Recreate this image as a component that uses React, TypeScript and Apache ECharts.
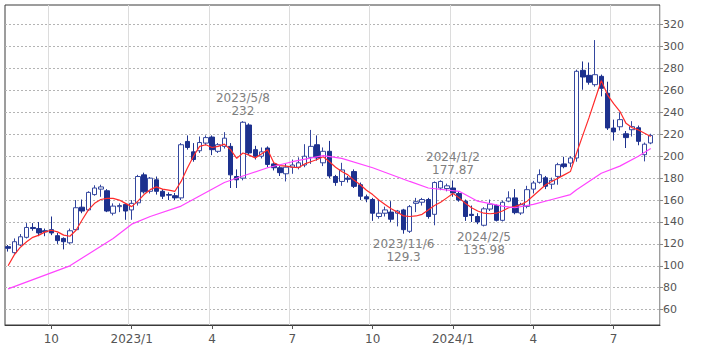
import React, { useEffect, useRef } from "react";
import * as echarts from "echarts";

// Weekly candles starting week of 2022/8/15; [open, close, low, high]
const firstWeek = [2022, 8, 15];
const weekCount = 106; // last slot is empty (current week)
const candles: number[][] = [
  [117.5, 116, 113, 119], [112, 122, 111, 125], [119, 126.5, 118, 129], [126, 135, 125, 139],
  [135, 134, 132, 139], [134, 130, 127, 140], [132, 131, 127, 134], [133, 130, 128, 145],
  [127.5, 123, 120, 130], [125, 122, 115, 126], [121, 132, 120, 134], [133, 153, 132, 160],
  [153.5, 150, 148, 160.5], [151, 167, 150, 168], [165, 171, 164, 173.5], [170, 172, 163, 174],
  [168.5, 150, 149, 170], [148, 154.5, 146, 157], [154, 155, 149, 157], [156, 150, 142, 157],
  [151, 157, 142, 160], [157.5, 181.5, 155, 183], [183, 167.5, 166, 185], [168, 180, 166, 181],
  [178.5, 168, 165, 181.5], [168, 163.5, 161, 170], [165, 164.5, 160, 167], [164, 162, 160, 166.5],
  [162, 210.5, 160, 212], [213.5, 208, 206, 219], [204, 197, 195, 212], [205, 212.5, 203, 218],
  [212, 217, 210, 219], [217.5, 206, 201, 219], [204.5, 210.5, 203, 212], [209, 216.5, 207, 222],
  [209, 183, 171, 212], [181.5, 178.5, 171, 188], [180, 231, 178, 232], [228.5, 203, 201, 230],
  [206, 200, 197, 209.5], [200, 204, 198, 208], [207.5, 192.5, 190, 209], [193, 189.5, 187, 194],
  [189.5, 185, 182, 191], [184, 190, 177, 193], [190, 192, 184, 197], [190, 194, 188, 199],
  [192, 200, 190, 211], [199, 209, 193, 224], [210.5, 198.5, 196, 219], [194, 204.5, 191, 208],
  [204.5, 182, 180, 214], [181.5, 176, 173, 183], [177, 187.5, 173, 194], [180, 179, 176, 182],
  [186, 172.5, 171, 188], [174, 163.5, 160, 176], [163, 161, 158, 165], [160.5, 148, 141, 162],
  [145, 148, 143, 160], [148, 151, 145, 154], [149, 142.5, 140, 159], [148, 150, 136, 151],
  [151, 133, 129.3, 152], [131.5, 154, 130, 155.5], [157, 158.5, 149, 162], [158, 160.5, 155, 162],
  [160.5, 145, 143, 162], [147, 176, 137, 177], [171, 177, 169, 178], [170.5, 173, 168, 175],
  [171, 166.5, 163, 177.87], [166, 160, 158.5, 167.5], [159, 145, 141, 160.5], [147, 146, 140, 155],
  [145, 140, 138, 148], [137, 152, 135.98, 153.5], [151.8, 156.3, 150, 160.5], [155, 141.5, 140.5, 156],
  [141.5, 158, 140.5, 159.5], [159, 162, 158, 168], [162, 148.5, 147, 170], [148.2, 155.8, 146.5, 157.5],
  [154.3, 169.5, 152.5, 173], [170, 175.6, 166, 177.5], [176.2, 183.2, 175, 188], [180.3, 172.6, 170, 182],
  [174.5, 178, 170, 180.5], [181.6, 192.3, 174, 194], [193, 190.5, 189, 199.5], [193.8, 198.4, 190, 200],
  [198.4, 277.5, 195, 279], [278.4, 272.3, 260.7, 286.5], [273.8, 267.5, 265.3, 285.5], [265.3, 274.4, 263.5, 306],
  [272.9, 262, 254.6, 274.5], [257.5, 225.8, 224, 268], [225.7, 222.2, 214.3, 233.4], [226.9, 233.4, 223.5, 240],
  [220.5, 217, 207.5, 223], [224.2, 227, 218, 232], [226, 213.6, 210, 228], [201.4, 211, 195.3, 212.5],
  [212.1, 219, 211, 220.5],
];

// short moving average (red), one value per candle
const maShort: number[] = [
  100, 110, 117, 122, 126, 128, 131, 132.5, 131, 128, 127, 132.5, 142, 151, 157, 160.5,
  161.5, 161.5, 160, 157, 154, 159, 165, 169.5, 172, 170, 169, 168, 177, 189, 200, 209,
  210.5, 208, 209, 211, 206, 198, 203, 201, 198.5, 202, 206, 194, 191.5, 191, 190, 189.5,
  193, 195, 197, 199.5, 195, 190, 186, 183, 178, 174, 169, 165, 160, 156, 152, 149,
  145.5, 145, 145.5, 147, 151, 155, 158, 162, 166, 162, 157, 153, 150, 148, 147.5, 148,
  150, 153, 154, 156, 159, 164, 169, 174, 177, 180, 183, 186, 203, 219, 235, 252,
  269, 256, 248, 241, 230, 226, 224, 221, 218,
];

// long moving average (magenta), read at its bends
const maLongIndex: number[] = [0, 10, 17, 20, 23, 28, 35, 38, 42, 46, 51, 54, 59, 65, 68, 73, 76, 80, 82, 85, 88, 91, 92, 96, 99, 102, 104];
const maLongValue: number[] = [79, 100, 125, 138, 145, 154.5, 176, 182, 189.5, 195, 200.5, 198, 189.5, 177, 171, 168, 159, 154.5, 153, 156, 160.5, 165, 169.5, 184.5, 191, 200, 207];

const quarterWeeks: string[] = ["2022/10/3", "2023/1/2", "2023/4/3", "2023/7/3", "2023/10/2", "2024/1/1", "2024/4/1", "2024/7/1"];
const quarterLabels: string[] = ["10", "2023/1", "4", "7", "10", "2024/1", "4", "7"];

const yTicks: number[] = [60, 80, 100, 120, 140, 160, 180, 200, 220, 240, 260, 280, 300, 320];

const noteWeeks: string[] = ["2023/5/8", "2023/11/6", "2024/1/1", "2024/2/5"];
const noteDates: string[] = ["2023/5/8", "2023/11/6", "2024/1/2", "2024/2/5"];
const noteValues: number[] = [232, 129.3, 177.87, 135.98];
const noteSide: string[] = ["top", "bottom", "top", "bottom"];

const FONT = "DejaVu Sans";

function buildWeeks(): string[] {
  const out: string[] = [];
  const d = new Date(Date.UTC(firstWeek[0], firstWeek[1] - 1, firstWeek[2]));
  for (let i = 0; i < weekCount; i++) {
    out.push(`${d.getUTCFullYear()}/${d.getUTCMonth() + 1}/${d.getUTCDate()}`);
    d.setUTCDate(d.getUTCDate() + 7);
  }
  return out;
}

export default function App() {
  const ref = useRef<HTMLDivElement>(null);
  useEffect(() => {
    if (!ref.current) return;
    const chart = echarts.init(ref.current, undefined, { renderer: "svg" });
    const weeks = buildWeeks();
    const qSet = new Set(quarterWeeks);
    const showAt = (_i: number, v: string) => qSet.has(v);
    const candleData = weeks.map((_, i) => (i < candles.length ? candles[i] : "-"));
    const shortData = weeks.map((_, i) => (i < maShort.length ? maShort[i] : null));
    const longData: (number | null)[] = weeks.map(() => null);
    maLongIndex.forEach((idx, k) => (longData[idx] = maLongValue[k]));

    chart.setOption({
      animation: false,
      backgroundColor: "#ffffff",
      grid: { left: 5, top: 5, right: 49, bottom: 29, show: true, borderColor: "#3a3a3a", borderWidth: 1, containLabel: false },
      xAxis: {
        type: "category",
        data: weeks,
        boundaryGap: true,
        axisLine: { show: true, lineStyle: { color: "#3a3a3a" } },
        axisTick: { show: true, interval: showAt, alignWithLabel: true, length: 4, lineStyle: { color: "#555" } },
        axisLabel: {
          interval: showAt,
          color: "#555",
          fontFamily: FONT,
          fontSize: 12,
          margin: 8,
          formatter: (v: string) => quarterLabels[quarterWeeks.indexOf(v)] ?? "",
        },
        splitLine: { show: true, interval: showAt, lineStyle: { color: "#dcdcdc", width: 1 } },
      },
      yAxis: {
        type: "value",
        position: "right",
        min: 46,
        max: 338,
        axisLine: { show: false },
        axisTick: { show: true, customValues: yTicks, length: 3, lineStyle: { color: "#888" } },
        axisLabel: { customValues: yTicks, color: "#555", fontFamily: FONT, fontSize: 11, margin: 3 },
        splitLine: { show: true, lineStyle: { color: "#b4b4b4", type: [2, 2], width: 1 } },
      },
      series: [
        {
          type: "candlestick",
          data: candleData,
          barWidth: 5,
          itemStyle: {
            color: "#ffffff",
            color0: "#1d318e",
            borderColor: "#34479f",
            borderColor0: "#1d318e",
            borderWidth: 1,
          },
          markPoint: {
            symbol: "circle",
            symbolSize: 0,
            silent: true,
            label: { show: true, color: "#808080", fontFamily: FONT, fontSize: 12, lineHeight: 13 },
            data: noteWeeks.map((w, k) => ({
              coord: [w, noteValues[k]],
              value: noteValues[k],
              label: { position: noteSide[k], distance: 4, formatter: `${noteDates[k]}\n${noteValues[k]}` },
            })),
          },
        },
        {
          type: "line",
          data: shortData,
          symbol: "none",
          lineStyle: { color: "#ff2b2b", width: 1.2 },
        },
        {
          type: "line",
          data: longData,
          connectNulls: true,
          symbol: "none",
          lineStyle: { color: "#ff44ff", width: 1.2 },
        },
      ],
    });
    return () => chart.dispose();
  }, []);
  return <div ref={ref} style={{ position: "fixed", left: 0, top: 0, width: 709, height: 354 }} />;
}
